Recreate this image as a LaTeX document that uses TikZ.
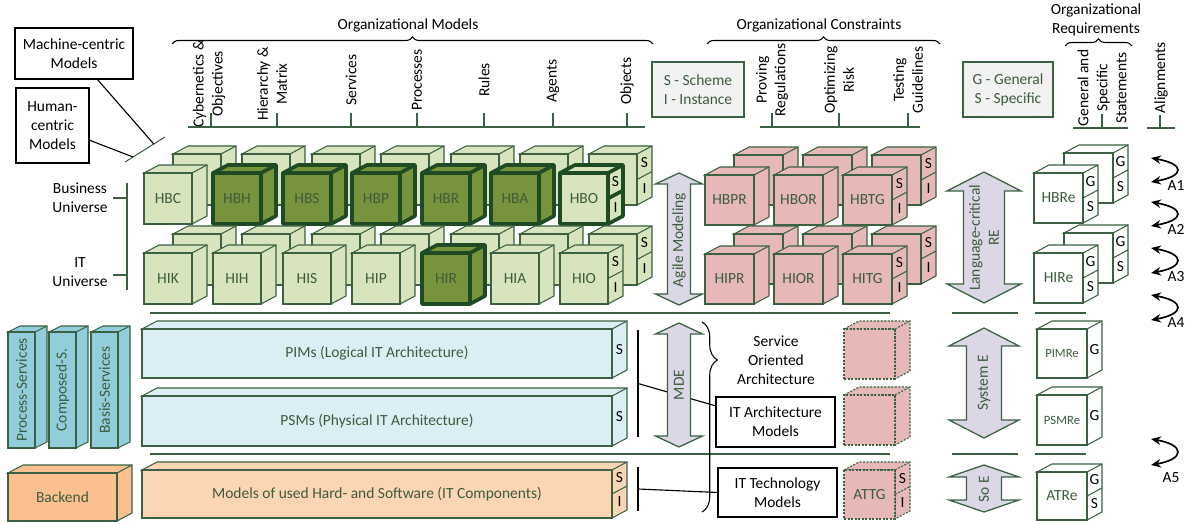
\documentclass[tikz,border=0pt]{standalone}
\usepackage{fontspec}
\setmainfont{Carlito}
\usetikzlibrary{positioning,calc,arrows.meta,decorations.pathreplacing}

\definecolor{cgreen}{HTML}{3B6142}
\definecolor{cdark}{HTML}{1E4A24}
\definecolor{ctext}{HTML}{3D5C3D}
\definecolor{clight}{HTML}{D7E4BD}
\definecolor{colive}{HTML}{77933C}
\definecolor{cred}{HTML}{E6B9B8}
\definecolor{cblue}{HTML}{DAEEF3}
\definecolor{ccyan}{HTML}{92CDDC}
\definecolor{corange}{HTML}{FAC090}
\definecolor{cpeach}{HTML}{FCD5B5}
\definecolor{clav}{HTML}{DCD7E6}
\definecolor{cgray}{HTML}{F2F2F2}

\newcommand{\pxu}{0.025cm}
\newcommand{\cdx}{15}
\newcommand{\cdy}{8}
% #1 name, #2 style, #3 x, #4 y, #5 width, #6 height, #7 text
\newcommand{\drawcube}[7]{%
  \draw[#2] (#3,#4) -- ++(\cdx,-\cdy) -- ++(#5,0) -- ++(0,#6) -- ++(-\cdx,\cdy) -- (#3+#5,#4) -- cycle;
  \draw[#2] (#3+#5,#4) -- ++(\cdx,-\cdy);
  \node[#2, anchor=north west, minimum width=#5*\pxu, minimum height=#6*\pxu] (#1) at (#3,#4) {#7};
}
% side face with two labels
\newcommand{\sidetwo}[4]{%
  \draw[#2] (#1.east) -- ++(\cdx,-\cdy);
  \node[sidetext] (#1-up) at ($(#1.north east)!0.25!(#1.south east)+(\cdx/2,-\cdy/2)$) {#3};
  \node[sidetext] (#1-lo) at ($(#1.north east)!0.75!(#1.south east)+(\cdx/2,-\cdy/2)$) {#4};
}
% side face with one label
\newcommand{\sideone}[2]{%
  \node[sidetext] (#1-up) at ($(#1.east)+(\cdx/2,-\cdy/2)$) {#2};
}
% vertical double arrow: cx, half head, half shaft, top, bottom, head length
\newcommand{\updown}[6]{%
  \draw[updown] (#1,#4) -- (#1+#2,#4+#6) -- (#1+#3,#4+#6) -- (#1+#3,#5-#6) -- (#1+#2,#5-#6) -- (#1,#5)
    -- (#1-#2,#5-#6) -- (#1-#3,#5-#6) -- (#1-#3,#4+#6) -- (#1-#2,#4+#6) -- cycle;
}

\begin{document}
\begin{tikzpicture}[x=0.025cm, y=-0.025cm,
every node/.style={font=\fontsize{11}{13.5}\selectfont, inner sep=0pt, outer sep=0pt},
cubeline/.style={draw=cgreen, line width=0.75pt},
lightcube/.style={cubeline, fill=clight, text=ctext},
boldcube/.style={draw=cdark, line width=2.6pt, line join=round, fill=clight, text=ctext},
darkcube/.style={boldcube, fill=colive},
redcube/.style={cubeline, fill=cred, text=ctext},
dotcube/.style={redcube, dash pattern=on 1.5pt off 1pt},
whitecube/.style={cubeline, fill=white, text=ctext},
bluebar/.style={cubeline, fill=cblue, text=ctext},
cyanbar/.style={cubeline, fill=ccyan, text=ctext},
orangebar/.style={cubeline, fill=corange, text=ctext},
peachbar/.style={cubeline, fill=cpeach, text=ctext},
sidetext/.style={text=black},
infobox/.style={draw=cgreen, line width=1.6pt, fill=cgray, text=ctext, align=center},
textbox/.style={draw=black, line width=0.8pt, fill=white, align=center},
plain/.style={align=center},
rotlabel/.style={rotate=90, align=center},
rottext/.style={rotate=90, align=center, text=ctext},
axisline/.style={draw=cgreen, line width=0.75pt},
sepline/.style={draw=cgreen, line width=1.4pt},
bracestyle/.style={decorate, decoration={brace, amplitude=5pt}, line width=0.75pt},
updown/.style={draw=cgreen, line width=0.9pt, fill=clav, line join=miter},
alignarrow/.style={{Stealth[length=7pt,width=6pt]}-{Stealth[length=7pt,width=6pt]}, line width=1.2pt},
]
\useasboundingbox (0,0) rectangle (1192,524);

%Headings
\node (orgmod) at (408,25) {Organizational Models};
\node (orgcon) at (819,25) {Organizational Constraints};
\node[plain] (orgreq) at (1096,20) {Organizational\\Requirements};
\draw[bracestyle] (172,44) -- (653,44);
\draw[bracestyle] (707,44) -- (940,44);
\draw[bracestyle] (1065,46) -- (1132,46);

%Column labels
\node[rotlabel] (cyb) at (209,84) {Cybernetics \&\\Objectives};
\node[rotlabel] (hie) at (272,84) {Hierarchy \&\\Matrix};
\node[rotlabel] (ser) at (351,80) {Services};
\node[rotlabel] (pro) at (417,80) {Processes};
\node[rotlabel] (rul) at (484,80) {Rules};
\node[rotlabel] (age) at (553,81) {Agents};
\node[rotlabel] (obj) at (627,81) {Objects};
\node[rotlabel] (prv) at (772,80) {Proving\\Regulations};
\node[rotlabel] (opt) at (839,80) {Optimizing\\Risk};
\node[rotlabel] (tst) at (908,80) {Testing\\Guidelines};
\node[rotlabel] (gss) at (1102,88) {General and\\Specific\\Statements};
\node[rotlabel] (ali) at (1161,78) {Alignments};

%Axes
\draw[axisline] (188,127) -- (645,127);
\draw[axisline] (760,127) -- (920,127);
\draw[axisline] (1073,128) -- (1128,128);
\draw[axisline] (1147,128) -- (1175,128);
\foreach \x in {211,277,351,417,484,553,627,772,839,908}
  \draw[axisline] (\x,113) -- (\x,127);
\draw[axisline] (1102,114) -- (1102,128);
\draw[axisline] (1160,115) -- (1160,128);

%Legends
\node[infobox, minimum width=92*\pxu, minimum height=55*\pxu] (scheme) at (698,89.5) {S - Scheme\\I - Instance};
\node[infobox, minimum width=90*\pxu, minimum height=55*\pxu] (general) at (1008,89.5) {G - General\\S - Specific};

%Machine and human
\node[textbox, minimum width=118*\pxu, minimum height=51*\pxu] (machine) at (74,53.5) {Machine-centric\\Models};
\node[textbox, minimum width=73*\pxu, minimum height=75*\pxu] (human) at (52.5,125.5) {Human-\\centric\\Models};
\coordinate (cl1) at (125,162);
\coordinate (cl2) at (165,137);
\draw[axisline] (cl1) -- (cl2);
\draw[line width=0.8pt] ($(machine.south)+(23,0)$) -- ($(cl1)!0.72!(cl2)$);
\draw[line width=0.8pt] ($(human.east)+(0,14.5)$) -- ($(cl1)!0.2!(cl2)$);

%Universes
\node[plain] (bu) at (80,198) {Business\\Universe};
\node[plain] (itu) at (80,272) {IT\\Universe};
\draw[axisline] (127,183) -- (127,290);
\draw[axisline] (113,198) -- (127,198);
\draw[axisline] (113,275) -- (127,275);

%Business universe
\foreach \nm/\x in {HBC/144,HBH/213,HBS/283,HBP/352,HBR/422,HBA/491,HBO/560}
  \drawcube{b\nm}{lightcube}{\x+29}{154}{48}{51}{};
\sidetwo{bHBO}{cubeline}{S}{I}
\foreach \nm/\x/\st in {HBC/144/lightcube,HBH/213/darkcube,HBS/283/darkcube,HBP/352/darkcube,HBR/422/darkcube,HBA/491/darkcube,HBO/560/boldcube}
  \drawcube{\nm}{\st}{\x}{173}{48}{51}{\nm};
\sidetwo{HBO}{boldcube}{S}{I}
\foreach \nm/\x in {HBPR/705,HBOR/774,HBTG/843}
  \drawcube{b\nm}{redcube}{\x+29}{155}{49}{50}{};
\sidetwo{bHBTG}{cubeline}{S}{I}
\foreach \nm/\x in {HBPR/705,HBOR/774,HBTG/843}
  \drawcube{\nm}{redcube}{\x}{175}{49}{50}{\nm};
\sidetwo{HBTG}{cubeline}{S}{I}
\drawcube{bHBRe}{whitecube}{1064}{153}{49}{50}{}
\sidetwo{bHBRe}{cubeline}{G}{S}
\drawcube{HBRe}{whitecube}{1034}{173}{49}{50}{HBRe}
\sidetwo{HBRe}{cubeline}{G}{S}

%IT universe
\foreach \nm/\x in {HIK/144,HIH/213,HIS/283,HIP/352,HIR/422,HIA/491,HIO/560}
  \drawcube{b\nm}{lightcube}{\x+29}{234}{48}{51}{};
\sidetwo{bHIO}{cubeline}{S}{I}
\foreach \nm/\x/\st in {HIK/144/lightcube,HIH/213/lightcube,HIS/283/lightcube,HIP/352/lightcube,HIR/422/darkcube,HIA/491/lightcube,HIO/560/lightcube}
  \drawcube{\nm}{\st}{\x}{253}{48}{51}{\nm};
\sidetwo{HIO}{cubeline}{S}{I}
\foreach \nm/\x in {HIPR/705,HIOR/774,HITG/843}
  \drawcube{b\nm}{redcube}{\x+29}{234}{49}{50}{};
\sidetwo{bHITG}{cubeline}{S}{I}
\foreach \nm/\x in {HIPR/705,HIOR/774,HITG/843}
  \drawcube{\nm}{redcube}{\x}{254}{49}{50}{\nm};
\sidetwo{HITG}{cubeline}{S}{I}
\drawcube{bHIRe}{whitecube}{1064}{233}{49}{50}{}
\sidetwo{bHIRe}{cubeline}{G}{S}
\drawcube{HIRe}{whitecube}{1034}{253}{49}{50}{HIRe}
\sidetwo{HIRe}{cubeline}{G}{S}

%Separators
\foreach \y in {313,454} {
  \draw[sepline] (150,\y) -- (890,\y);
  \draw[sepline] (952,\y) -- (1018,\y);
  \draw[sepline] (1035,\y) -- (1086,\y);
}

%Services and backend
\begin{scope}
\renewcommand{\cdx}{12}\renewcommand{\cdy}{6}
\drawcube{procs}{cyanbar}{8}{332}{27}{116}{}
\drawcube{comps}{cyanbar}{49}{332}{27}{116}{}
\drawcube{bases}{cyanbar}{91}{332}{27}{116}{}
\end{scope}
\node[rottext] (procst) at (procs) {Process-Services};
\node[rottext] (compst) at (comps) {Composed-S.};
\node[rottext] (basest) at (bases) {Basis-Services};
\drawcube{backend}{orangebar}{8}{473}{109}{48}{Backend}

%Architecture models
\drawcube{pim}{bluebar}{142}{329}{470}{49}{PIMs (Logical IT Architecture)}
\sideone{pim}{S}
\drawcube{psm}{bluebar}{142}{396}{470}{50}{PSMs (Physical IT Architecture)}
\sideone{psm}{S}
\drawcube{hwsw}{peachbar}{142}{470}{470}{48}{Models of used Hard- and Software (IT Components)}
\sidetwo{hwsw}{cubeline}{S}{I}
\drawcube{dot1}{dotcube}{844}{329}{51}{50}{}
\drawcube{dot2}{dotcube}{844}{395}{51}{50}{}
\drawcube{ATTG}{dotcube}{844}{470}{51}{49}{ATTG}
\sidetwo{ATTG}{dotcube}{S}{I}
\drawcube{PIMRe}{whitecube}{1037}{329}{50}{49}{\fontsize{9}{11}\selectfont PIMRe}
\sideone{PIMRe}{G}
\drawcube{PSMRe}{whitecube}{1037}{395}{50}{50}{\fontsize{9}{11}\selectfont PSMRe}
\sideone{PSMRe}{G}
\drawcube{ATRe}{whitecube}{1037}{472}{50}{48}{ATRe}
\sidetwo{ATRe}{cubeline}{G}{S}

%Model boxes
\node[textbox, minimum width=119*\pxu, minimum height=50*\pxu] (itarch) at (775.5,422) {IT Architecture\\Models};
\node[textbox, minimum width=119*\pxu, minimum height=49*\pxu] (ittech) at (777.5,492.5) {IT Technology\\Models};
\coordinate (archtop) at (638,330);
\coordinate (archbot) at (638,437);
\coordinate (techtop) at (638,467);
\coordinate (techbot) at (638,511);
\draw[line width=0.8pt] (archtop) -- (archbot);
\draw[line width=0.8pt] (techtop) -- (techbot);
\draw[line width=0.8pt] ($(archtop)!0.5!(archbot)$) -- ($(itarch.north west)!0.18!(itarch.south west)$);
\draw[line width=0.8pt] ($(techtop)!0.5!(techbot)$) -- (ittech.west);

%Arrows
\updown{679}{23.5}{11.5}{173}{305}{11}
\node[rottext] (agile) at (679,240) {Agile Modeling};
\updown{984}{37}{20.5}{172}{303}{19}
\node[rottext] (lang) at (984,238) {Language-critical\\RE};
\updown{679}{23.5}{11.5}{323}{447}{11}
\node[rottext] (mde) at (679,385) {MDE};
\updown{984}{35}{17.5}{328}{438}{18}
\node[rottext] (syse) at (984,383) {System E};
\updown{984}{35}{17.5}{465}{512}{12}
\node[rottext] (soe) at (984,489) {So E};

%Service oriented architecture
\draw[bracestyle, decoration={brace, amplitude=11pt, aspect=0.2}] (702,322) -- (702,512);
\node[plain] (soa) at (776,360) {Service\\Oriented\\Architecture};

%Alignments
\foreach \n/\yt/\yb/\lx/\ly in {1/158/182/1176/186,2/202/226/1176/229,3/248/273/1176/277,4/295/320/1176/323,5/439/465/1171/478} {
  \coordinate (al\n-t) at (1151,\yt);
  \coordinate (al\n-b) at (1151,\yb);
  \draw[alignarrow] (al\n-t) .. controls +(34,6) and +(34,-6) .. (al\n-b);
  \node (A\n) at (\lx,\ly) {A\n};
}
\end{tikzpicture}
\end{document}
